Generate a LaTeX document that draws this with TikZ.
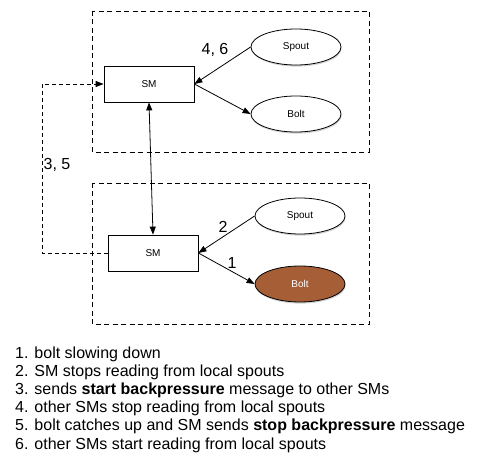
\documentclass[tikz,border=0pt]{standalone}
\usepackage{fontspec}
\setmainfont{Liberation Sans}
\usetikzlibrary{arrows.meta,shapes.geometric,shadows}
\definecolor{boltbrown}{RGB}{166,94,55}
\tikzset{
  x=1pt,y=-1pt,
  region/.style={draw,line width=0.8pt,dash pattern=on 5pt off 3.5pt},
  smbox/.style={draw,line width=0.8pt,fill=white,minimum width=90pt,minimum height=36pt,inner sep=0pt,font=\fontsize{10}{12}\selectfont},
  proc/.style={draw,line width=0.8pt,fill=white,ellipse,minimum width=90pt,minimum height=36pt,inner sep=0pt,font=\fontsize{10}{12}\selectfont,
    drop shadow={opacity=0.35,shadow xshift=0.6pt,shadow yshift=-1.6pt}},
  flow/.style={line width=0.8pt,-{Triangle[length=8pt,width=6pt]}},
  elabel/.style={font=\fontsize{16}{18}\selectfont,inner sep=0pt},
  item/.style={anchor=base west,inner sep=0pt,font=\fontsize{16}{18}\selectfont},
}
\begin{document}
\begin{tikzpicture}
\useasboundingbox (0,0) rectangle (501,468);
% regions
\draw[region] (92,11) rectangle (369,152);
\draw[region] (92,183) rectangle (369,324);
% top instance
\node[smbox] (tsm) at (149,84) {SM};
\node[proc] (tsp) at (296,47) {Spout};
\node[proc] (tbo) at (296,114) {Bolt};
% bottom instance
\node[smbox] (bsm) at (153,253) {SM};
\node[proc] (bsp) at (300,216) {Spout};
\node[proc,fill=boltbrown,text=white] (bbo) at (300,284) {Bolt};
% connectors
\draw[flow] (tsp.west) -- (tsm.east);
\draw[flow] (tsm.east) -- (tbo.west);
\draw[flow] (bsp.west) -- (bsm.east);
\draw[flow] (bsm.east) -- (bbo.west);
\draw[line width=0.8pt,{Triangle[length=8pt,width=6pt]}-{Triangle[length=8pt,width=6pt]}] (tsm.south) -- (bsm.north);
\coordinate (bend) at (42,84);
\draw[flow,dash pattern=on 4pt off 3pt] (bsm.west) -| (bend) -- (tsm.west);
% edge labels
\node[elabel] (l46) at (215,50) {4, 6};
\node[elabel] (l35) at (57,165) {3, 5};
\node[elabel] (l2) at (223,227) {2};
\node[elabel] (l1) at (232,263) {1};
% legend
\node[item] (i1) at (15,358) {1. bolt slowing down};
\node[item] (i2) at (15,376.2) {2. SM stops reading from local spouts};
\node[item] (i3) at (15,394.4) {3. sends \textbf{start backpressure} message to other SMs};
\node[item] (i4) at (15,412.6) {4. other SMs stop reading from local spouts};
\node[item] (i5) at (15,430.8) {5. bolt catches up and SM sends \textbf{stop backpressure} message};
\node[item] (i6) at (15,449) {6. other SMs start reading from local spouts};
\end{tikzpicture}
\end{document}
